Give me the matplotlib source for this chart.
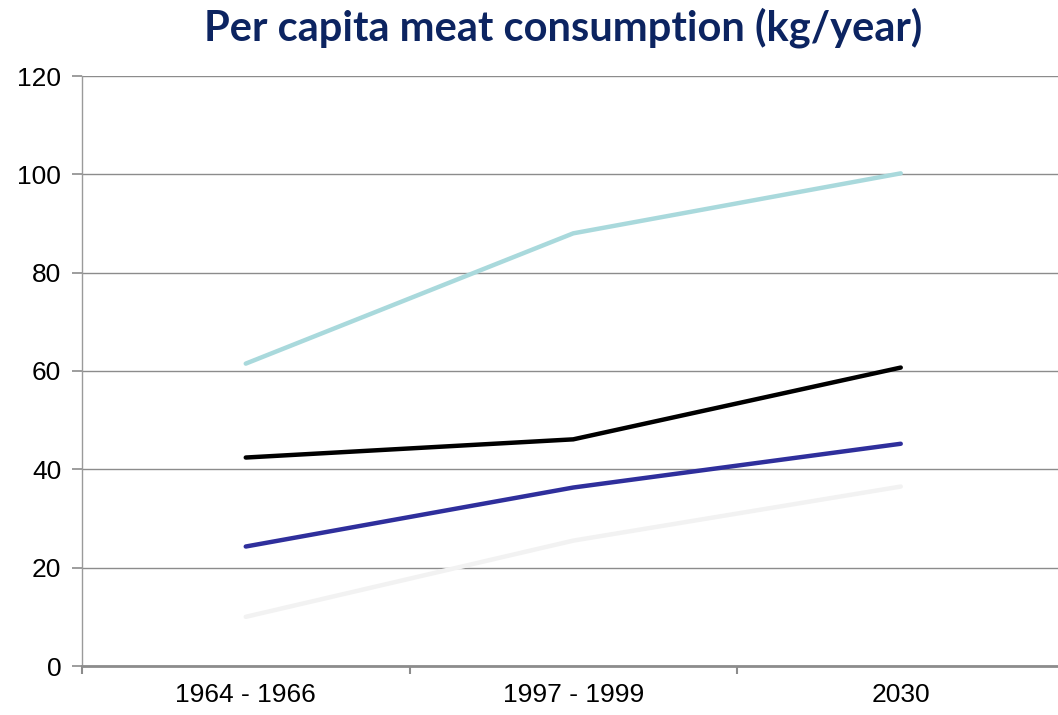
import matplotlib
matplotlib.use("Agg")
import matplotlib.pyplot as plt
from matplotlib.ticker import FixedLocator

categories = ["1964 - 1966", "1997 - 1999", "2030"]
series_teal = [61.5, 88.0, 100.2]
series_black = [42.4, 46.1, 60.7]
series_blue = [24.3, 36.3, 45.2]
series_light = [10.0, 25.5, 36.5]
yticks = [0, 20, 40, 60, 80, 100, 120]

fig = plt.figure(figsize=(10.58, 7.15), dpi=100)
W, H = 1058, 715
left_px, right_px, top_px, bottom_px = 82, 1058, 76, 666
ax = fig.add_axes([left_px / W, 1 - bottom_px / H, (right_px - left_px) / W, (bottom_px - top_px) / H])

x = list(range(len(categories)))
colors = ["#a9d9dc", "#000000", "#2f2f9c", "#f2f2f2"]
for ys, c in zip([series_teal, series_black, series_blue, series_light], colors):
    ax.plot(x, ys, color=c, linewidth=3.2, solid_capstyle="round", zorder=3)

step_px = 327.5
ax.set_xlim(-0.5, -0.5 + (right_px - left_px) / step_px)
ax.set_ylim(0, 120)
ax.set_yticks(yticks)
ax.set_xticks(x)
ax.set_xticklabels(categories)
ax.xaxis.set_minor_locator(FixedLocator([-0.5, 0.5, 1.5]))
ax.tick_params(axis="x", which="major", length=0, pad=12, labelsize=19)
ax.tick_params(axis="x", which="minor", length=6, width=1.5, color="#8c8c8c")
ax.tick_params(axis="y", length=7, width=1.2, color="#8c8c8c", labelsize=19, pad=8)
for lab in ax.get_xticklabels() + ax.get_yticklabels():
    lab.set_fontfamily("Liberation Sans")
    lab.set_color("#000000")

ax.grid(axis="y", color="#8c8c8c", linewidth=1.0, zorder=0)
ax.set_axisbelow(True)
for s in ["top", "right"]:
    ax.spines[s].set_visible(False)
ax.spines["left"].set_color("#9a9a9a")
ax.spines["left"].set_linewidth(1.0)
ax.spines["bottom"].set_color("#8c8c8c")
ax.spines["bottom"].set_linewidth(2.0)

fig.text(563 / W, 1 - 28 / H, "Per capita meat consumption (kg/year)", ha="center", va="center",
         fontsize=30, fontweight="bold", color="#0c2461", family="Lato")

fig.savefig("out.png", dpi=100)
